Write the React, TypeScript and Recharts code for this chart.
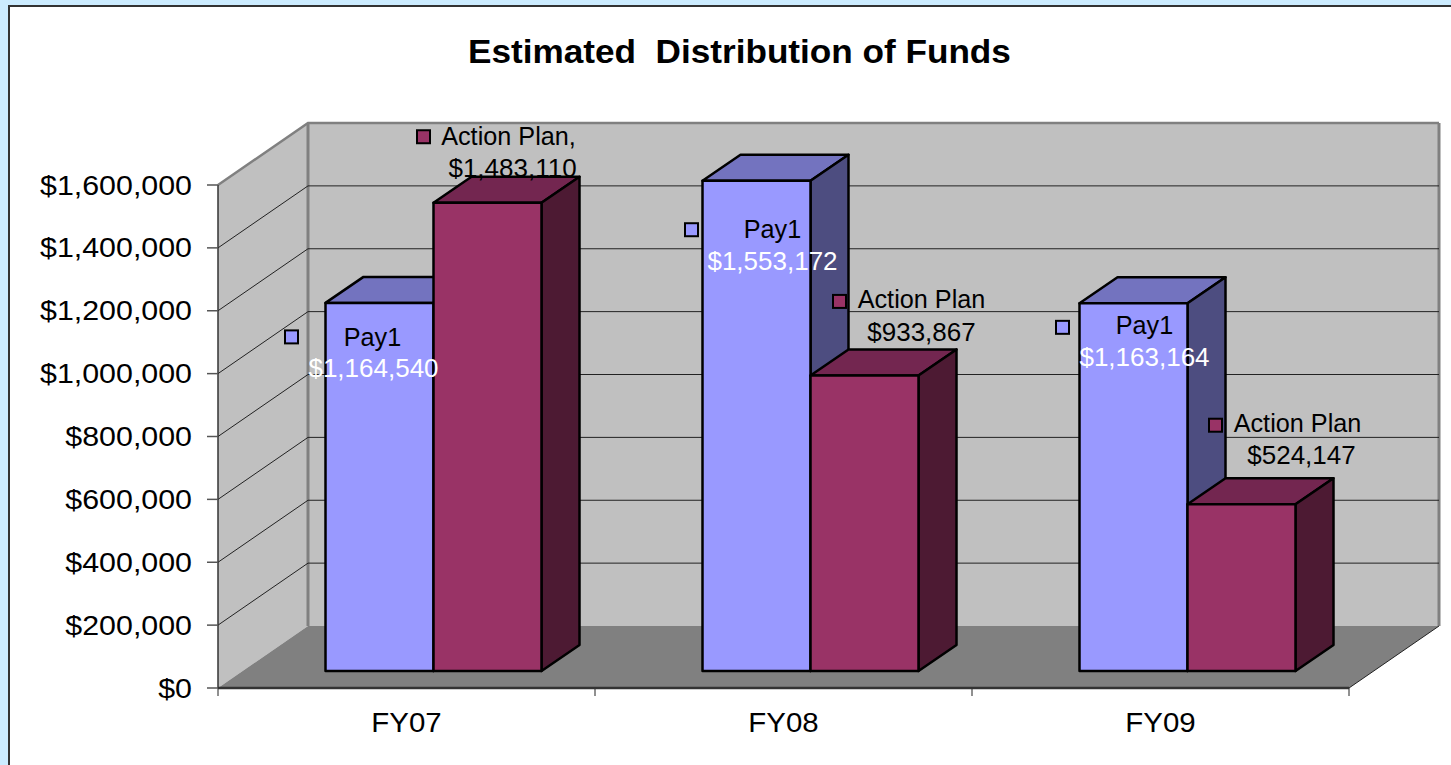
import React from 'react';
import { BarChart, Bar, XAxis, YAxis, CartesianGrid, LabelList } from 'recharts';

const categories = ['FY07', 'FY08', 'FY09'];
const pay1Values = [1164540, 1553172, 1163164];
const actionPlanValues = [1483110, 933867, 524147];
const yTicks = [0, 200000, 400000, 600000, 800000, 1000000, 1200000, 1400000, 1600000];
const actionPlanNames = ['Action Plan,', 'Action Plan', 'Action Plan'];
const pay1Names = ['Pay1', 'Pay1', 'Pay1'];
const title = 'Estimated  Distribution of Funds';

const data = categories.map((category, i) => ({
  category,
  pay1: pay1Values[i],
  actionPlan: actionPlanValues[i],
}));

const FONT = '"Liberation Sans", Arial, sans-serif';
const DEPTH_X = 38;
const DEPTH_Y = 26;
const WALL_X = 90;
const WALL_Y = 62;
const BAR_SHIFT_X = 26.5;
const BAR_LIFT = 17;
const BAR_TOP_EXTRA = 2;

const pay1Colors = { front: '#9999FF', top: '#7373BF', side: '#4D4D80' };
const actionColors = { front: '#993366', top: '#732650', side: '#4D1A33' };

type Off = { marker: number[]; name: number[]; value: number[] };
const pay1LabelLayout: Off[] = [
  { marker: [-34, 34], name: [47, 34], value: [48, 65] },
  { marker: [-11, 49], name: [70, 48], value: [70, 80] },
  { marker: [-17, 24], name: [65, 22], value: [65, 54] },
];
const actionLabelLayout: Off[] = [
  { marker: [-10, -66], name: [75, -67], value: [79, -35] },
  { marker: [29, -74], name: [111, -76], value: [111, -43] },
  { marker: [28, -79], name: [110, -81], value: [114, -49] },
];

function Stretch({ x, y, sx, size, anchor, fill, children }: any) {
  return (
    <text
      transform={`translate(${x},${y}) scale(${sx},1)`}
      textAnchor={anchor}
      dominantBaseline="central"
      fontFamily={FONT}
      fontSize={size}
      fill={fill || '#000'}
    >
      {children}
    </text>
  );
}

const money = (v: number) => '$' + v.toLocaleString('en-US');

function make3DBar(colors: typeof pay1Colors) {
  return function Bar3D(props: any) {
    const { x, y, width, height } = props;
    const L = x + BAR_SHIFT_X;
    const R = L + width;
    const T = y - BAR_LIFT - BAR_TOP_EXTRA;
    const B = y + height - BAR_LIFT;
    return (
      <g stroke="#000" strokeWidth={2.5} strokeLinejoin="round">
        <polygon fill={colors.top} points={`${L},${T} ${L + DEPTH_X},${T - DEPTH_Y} ${R + DEPTH_X},${T - DEPTH_Y} ${R},${T}`} />
        <polygon fill={colors.side} points={`${R},${T} ${R + DEPTH_X},${T - DEPTH_Y} ${R + DEPTH_X},${B - DEPTH_Y} ${R},${B}`} />
        <rect x={L} y={T} width={width} height={B - T} fill={colors.front} />
      </g>
    );
  };
}

function makeLabel(names: string[], layout: Off[], color: string, valueFill: string[]) {
  return function DataLabel(props: any) {
    const { x, y, index, value } = props;
    const L = x + BAR_SHIFT_X;
    const T = y - BAR_LIFT - BAR_TOP_EXTRA;
    const o = layout[index];
    return (
      <g>
        <rect x={L + o.marker[0] - 6.5} y={T + o.marker[1] - 6.5} width={13} height={13} fill={color} stroke="#000" strokeWidth={2} />
        <Stretch x={L + o.name[0]} y={T + o.name[1]} sx={1.01} size={25} anchor="middle">{names[index]}</Stretch>
        <Stretch x={L + o.value[0]} y={T + o.value[1]} sx={1.04} size={25} anchor="middle" fill={valueFill[index]}>{money(value)}</Stretch>
      </g>
    );
  };
}

function GridLine(props: any) {
  const { x1, y1, x2, index, x, y, width, height } = props;
  const bottom = y + height;
  const isBottom = Math.abs(y1 - bottom) < 0.5;
  const isTop = Math.abs(y1 - y) < 0.5;
  const tickXs = categories.map((_, i) => x + (width * i) / categories.length).concat(x + width);
  return (
    <g>
      {index === 0 && (
        <g>
          <polygon fill="#C0C0C0" points={`${x},${y} ${x + WALL_X},${y - WALL_Y} ${x + WALL_X},${bottom - WALL_Y} ${x},${bottom}`} />
          <rect x={x + WALL_X} y={y - WALL_Y} width={width} height={height} fill="#C0C0C0" />
          <polygon fill="#808080" points={`${x},${bottom} ${x + WALL_X},${bottom - WALL_Y} ${x + width + WALL_X},${bottom - WALL_Y} ${x + width},${bottom}`} />
          <polyline fill="none" stroke="#808080" strokeWidth={2.5} points={`${x},${y} ${x + WALL_X},${y - WALL_Y} ${x + width + WALL_X},${y - WALL_Y}`} />
          <line x1={x + width + WALL_X} y1={y - WALL_Y} x2={x + width + WALL_X} y2={bottom - WALL_Y} stroke="#808080" strokeWidth={3} />
          <line x1={x + WALL_X} y1={y - WALL_Y} x2={x + WALL_X} y2={bottom - WALL_Y} stroke="#808080" strokeWidth={3} />
          <line x1={x + width} y1={bottom} x2={x + width + WALL_X} y2={bottom - WALL_Y} stroke="#222" strokeWidth={1} />
          {tickXs.map((tx) => (
            <line key={tx} x1={tx} y1={bottom} x2={tx} y2={bottom + 8} stroke="#222" strokeWidth={1} />
          ))}
        </g>
      )}
      {!isBottom && !isTop && (
        <g stroke="#222" strokeWidth={1}>
          <line x1={x1} y1={y1} x2={x1 + WALL_X} y2={y1 - WALL_Y} />
          <line x1={x1 + WALL_X} y1={y1 - WALL_Y} x2={x2 + WALL_X} y2={y1 - WALL_Y} />
        </g>
      )}
    </g>
  );
}

function YTick({ x, y, payload }: any) {
  return <Stretch x={x} y={y} sx={1.085} size={28} anchor="end">{money(payload.value)}</Stretch>;
}

function XTick({ x, y, payload }: any) {
  return <Stretch x={x} y={y + 26} sx={1.09} size={27} anchor="middle">{payload.value}</Stretch>;
}

export default function App() {
  return (
    <div style={{ position: 'fixed', left: 0, top: 0, width: 1451, height: 765, background: '#CCECFF', overflow: 'hidden' }}>
      <div style={{ position: 'absolute', left: 8, top: 5, width: 1443, height: 760, background: '#fff', borderLeft: '2px solid #333', borderTop: '2px solid #333', boxSizing: 'border-box' }} />
      <div style={{ position: 'absolute', left: 468, top: 33, width: 543, textAlign: 'center', whiteSpace: 'pre', fontFamily: FONT, fontWeight: 700, fontSize: 33, lineHeight: '38px', color: '#000', transform: 'scaleX(1.065)' }}>
        {title}
      </div>
      <div style={{ position: 'absolute', left: 0, top: 0 }}>
        <BarChart
          width={1451}
          height={765}
          data={data}
          margin={{ top: 185, right: 102, bottom: 0, left: 0 }}
          barSize={108}
          barGap={0}
          style={{ overflow: 'visible' }}
        >
          <CartesianGrid vertical={false} horizontal={(p: any) => <GridLine key={p.key} {...p} />} />
          <XAxis
            dataKey="category"
            height={77}
            axisLine={{ stroke: '#333', strokeWidth: 2.5 }}
            tickLine={false}
            tick={<XTick />}
            interval={0}
          />
          <YAxis
            width={218}
            domain={[0, 1600000]}
            ticks={yTicks}
            interval={0}
            tickSize={11}
            tickMargin={15}
            axisLine={{ stroke: '#333', strokeWidth: 1.5 }}
            tickLine={{ stroke: '#555', strokeWidth: 1.5 }}
            tick={<YTick />}
          />
          <Bar dataKey="pay1" isAnimationActive={false} shape={make3DBar(pay1Colors)}>
            <LabelList dataKey="pay1" content={makeLabel(pay1Names, pay1LabelLayout, pay1Colors.front, ['#fff', '#fff', '#fff'])} />
          </Bar>
          <Bar dataKey="actionPlan" isAnimationActive={false} shape={make3DBar(actionColors)}>
            <LabelList dataKey="actionPlan" content={makeLabel(actionPlanNames, actionLabelLayout, actionColors.front, ['#000', '#000', '#000'])} />
          </Bar>
        </BarChart>
      </div>
    </div>
  );
}
